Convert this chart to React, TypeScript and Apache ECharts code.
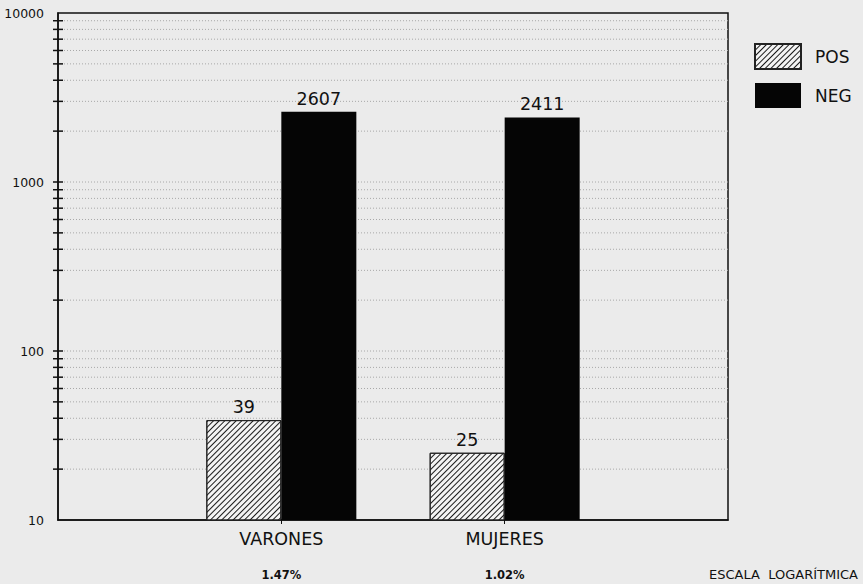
import React, { useEffect, useRef } from "react";
import * as echarts from "echarts";

const categories = ["VARONES", "MUJERES"];
const pctLabels = ["1.47%", "1.02%"];
const posValues = [39, 25];
const negValues = [2607, 2411];
const minorGridValues = [
  20, 30, 40, 50, 60, 70, 80, 90,
  200, 300, 400, 500, 600, 700, 800, 900,
  2000, 3000, 4000, 5000, 6000, 7000, 8000, 9000,
];
const majorInnerValues = [100, 1000];

const FONT = "DejaVu Sans";

export default function App() {
  const ref = useRef<HTMLDivElement>(null);
  useEffect(() => {
    document.body.style.margin = "0";
    const chart = echarts.init(ref.current!, null, { renderer: "svg" });
    const xData = ["", ...categories, ""];
    const pctMap: Record<string, string> = {};
    categories.forEach((c, i) => (pctMap[c] = pctLabels[i]));
    const hatch = {
      symbol: "rect",
      symbolSize: 1,
      dashArrayX: [1, 0],
      dashArrayY: [1, 2.2],
      rotation: -Math.PI / 4,
      color: "#1a1a1a",
      backgroundColor: "#f4f4f4",
    };
    const gridVals = [...minorGridValues, ...majorInnerValues];
    chart.setOption({
      animation: false,
      backgroundColor: "#ebebeb",
      textStyle: { fontFamily: FONT },
      grid: {
        left: 58,
        right: 135,
        top: 13,
        bottom: 64,
        show: true,
        borderColor: "#111",
        borderWidth: 1.5,
        backgroundColor: "transparent",
      },
      legend: {
        data: ["POS", "NEG"],
        orient: "vertical",
        left: 749,
        top: 38,
        icon: "rect",
        itemWidth: 46,
        itemHeight: 25,
        itemGap: 13,
        textStyle: { fontSize: 17, color: "#111", fontFamily: FONT, padding: [5, 0, 0, 9] },
      },
      xAxis: {
        type: "category",
        data: xData,
        boundaryGap: false,
        axisLine: { lineStyle: { color: "#111", width: 1.5 } },
        axisTick: {
          show: true,
          length: 4,
          interval: (i: number) => i > 0 && i < xData.length - 1,
          lineStyle: { color: "#111" },
        },
        axisLabel: {
          interval: 0,
          margin: 9,
          formatter: (v: string) => (v ? `{a|${v}}\n{b|${pctMap[v]}}` : ""),
          rich: {
            a: { fontSize: 17.5, lineHeight: 20, color: "#111", fontFamily: FONT },
            b: { fontSize: 11.5, lineHeight: 52, color: "#111", fontWeight: "bold", fontFamily: FONT },
          },
        },
      },
      yAxis: {
        type: "log",
        logBase: 10,
        min: 10,
        max: 10000,
        axisLine: { show: true, lineStyle: { color: "#111", width: 1.5 } },
        axisTick: { show: false },
        splitLine: { show: false },
        axisLabel: {
          fontSize: 12.5,
          color: "#111",
          margin: 14,
          fontFamily: FONT,
          formatter: (v: number) => String(Math.round(v)),
        },
      },
      series: [
        {
          type: "custom",
          name: "grid",
          z: 1,
          silent: true,
          data: gridVals.map((v) => [0, v]),
          renderItem: (params: any, api: any) => {
            const cs = params.coordSys;
            const y = api.coord([0, api.value(1)])[1];
            return {
              type: "group",
              children: [
                {
                  type: "line",
                  shape: { x1: cs.x + 6, y1: y, x2: cs.x + cs.width, y2: y },
                  style: { stroke: "#a8a8a8", lineWidth: 1, lineDash: [1, 2] },
                },
                {
                  type: "line",
                  shape: { x1: cs.x - 5, y1: y, x2: cs.x + 5, y2: y },
                  style: { stroke: "#111", lineWidth: 1.5 },
                },
              ],
            };
          },
        },
        {
          type: "bar",
          name: "POS",
          z: 3,
          barWidth: 75,
          barGap: "0%",
          data: [null, ...posValues, null],
          itemStyle: { color: "#f4f4f4", borderColor: "#222", borderWidth: 1, decal: hatch },
          label: { show: true, position: "top", distance: 4, fontSize: 17.5, color: "#111", fontFamily: FONT },
        },
        {
          type: "bar",
          name: "NEG",
          z: 3,
          barWidth: 75,
          barGap: "0%",
          data: [null, ...negValues, null],
          itemStyle: { color: "#050505" },
          label: { show: true, position: "top", distance: 4, fontSize: 17.5, color: "#111", fontFamily: FONT },
        },
      ],
      graphic: [
        {
          type: "text",
          right: 5,
          top: 568,
          style: { text: "ESCALA  LOGARÍTMICA", fontSize: 13, fill: "#111", fontFamily: FONT },
        },
      ],
    });
    return () => chart.dispose();
  }, []);
  return <div ref={ref} style={{ width: 863, height: 584, position: "fixed", left: 0, top: 0 }} />;
}
